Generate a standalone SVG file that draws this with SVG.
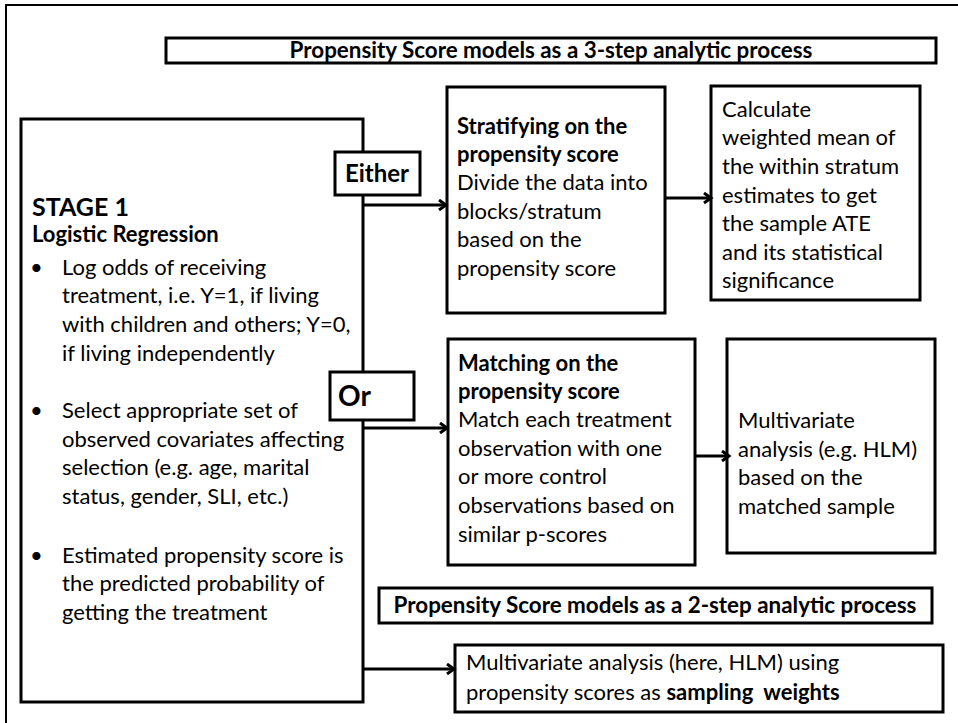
<svg xmlns="http://www.w3.org/2000/svg" width="958" height="723" viewBox="0 0 958 723">
<defs>
<style>
.box{fill:#fff;stroke:#000;stroke-width:3}
.t{font-family:Lato,"Liberation Sans",sans-serif;font-size:22px;fill:#000}
.b{font-weight:bold}
.title{font-family:Lato,"Liberation Sans",sans-serif;font-size:22.4px;font-weight:bold;fill:#000}
.conn{stroke:#000;stroke-width:3;fill:none}
</style>
<marker id="arr" markerWidth="12" markerHeight="12" refX="9" refY="6" orient="auto" markerUnits="userSpaceOnUse">
<polyline points="2,1 9,6 2,11" fill="none" stroke="#000" stroke-width="3"/>
</marker>
</defs>
<rect width="958" height="723" fill="#fff"/>
<g id="frame"><path d="M6,723 V5 H958" fill="none" stroke="#000" stroke-width="2"/></g>

<g id="title3">
<rect class="box" x="166" y="38" width="770" height="25"/>
<text class="title" x="551" y="58" text-anchor="middle">Propensity Score models as a 3-step analytic process</text>
</g>

<g id="stage1">
<rect class="box" x="21" y="119" width="342" height="583"/>
<text class="t b" x="32" y="216" style="font-size:25px">STAGE 1</text>
<text class="t b" x="32" y="242" style="font-size:22px">Logistic Regression</text>
<text class="t"><tspan x="30" y="275">•</tspan><tspan x="62" y="275">Log odds of receiving</tspan>
<tspan x="62" y="303">treatment, i.e. Y=1, if living</tspan>
<tspan x="62" y="332">with children and others; Y=0,</tspan>
<tspan x="62" y="361">if living independently</tspan>
<tspan x="30" y="418">•</tspan><tspan x="62" y="418">Select appropriate set of</tspan>
<tspan x="62" y="447">observed covariates affecting</tspan>
<tspan x="62" y="475">selection (e.g. age, marital</tspan>
<tspan x="62" y="504">status, gender, SLI, etc.)</tspan>
<tspan x="30" y="563">•</tspan><tspan x="62" y="563">Estimated propensity score is</tspan>
<tspan x="62" y="591">the predicted probability of</tspan>
<tspan x="62" y="620">getting the treatment</tspan></text>
</g>

<g id="either">
<rect class="box" x="335" y="152" width="85" height="43"/>
<text class="t b" x="377" y="182" text-anchor="middle" style="font-size:24px">Either</text>
</g>

<g id="or">
<rect class="box" x="330" y="372" width="84" height="48"/>
<text class="t b" x="338" y="406" style="font-size:28px">Or</text>
</g>

<g id="stratify">
<rect class="box" x="447" y="87" width="218" height="226"/>
<text class="t"><tspan class="b" x="457" y="134">Stratifying on the</tspan>
<tspan class="b" x="457" y="162">propensity score</tspan>
<tspan x="457" y="190">Divide the data into</tspan>
<tspan x="457" y="219">blocks/stratum</tspan>
<tspan x="457" y="247">based on the</tspan>
<tspan x="457" y="276">propensity score</tspan></text>
</g>

<g id="calculate">
<rect class="box" x="711" y="86" width="209" height="214"/>
<text class="t"><tspan x="722" y="117">Calculate</tspan>
<tspan x="722" y="145">weighted mean of</tspan>
<tspan x="722" y="174">the within stratum</tspan>
<tspan x="722" y="203">estimates to get</tspan>
<tspan x="722" y="231">the sample ATE</tspan>
<tspan x="722" y="260">and its statistical</tspan>
<tspan x="722" y="288">significance</tspan></text>
</g>

<g id="matching">
<rect class="box" x="448" y="339" width="247" height="226"/>
<text class="t"><tspan class="b" x="458" y="371">Matching on the</tspan>
<tspan class="b" x="458" y="399">propensity score</tspan>
<tspan x="458" y="427">Match each treatment</tspan>
<tspan x="458" y="456">observation with one</tspan>
<tspan x="458" y="484">or more control</tspan>
<tspan x="458" y="513">observations based on</tspan>
<tspan x="458" y="542">similar p-scores</tspan></text>
</g>

<g id="multivariate">
<rect class="box" x="727" y="339" width="208" height="214"/>
<text class="t"><tspan x="738" y="428">Multivariate</tspan>
<tspan x="738" y="457">analysis (e.g. HLM)</tspan>
<tspan x="738" y="485">based on the</tspan>
<tspan x="738" y="514">matched sample</tspan></text>
</g>

<g id="title2">
<rect class="box" x="379" y="588" width="553" height="35"/>
<text class="title" x="655" y="613" text-anchor="middle">Propensity Score models as a 2-step analytic process</text>
</g>

<g id="weights">
<rect class="box" x="455" y="645" width="488" height="67"/>
<text class="t"><tspan x="466" y="670">Multivariate analysis (here, HLM) using</tspan>
<tspan x="466" y="700">propensity scores as <tspan class="b">sampling</tspan><tspan class="b" dx="5"> weights</tspan></tspan></text>
</g>

<g id="connectors">
<line class="conn" x1="364" y1="205" x2="446" y2="205" marker-end="url(#arr)"/>
<line class="conn" x1="665" y1="198" x2="711" y2="198" stroke-width="4" marker-end="url(#arr)"/>
<line class="conn" x1="364" y1="428" x2="447" y2="428" marker-end="url(#arr)"/>
<line class="conn" x1="695" y1="456" x2="729" y2="456" stroke-width="4" marker-end="url(#arr)"/>
<line class="conn" x1="364" y1="669" x2="454" y2="669" marker-end="url(#arr)"/>
</g>
</svg>
